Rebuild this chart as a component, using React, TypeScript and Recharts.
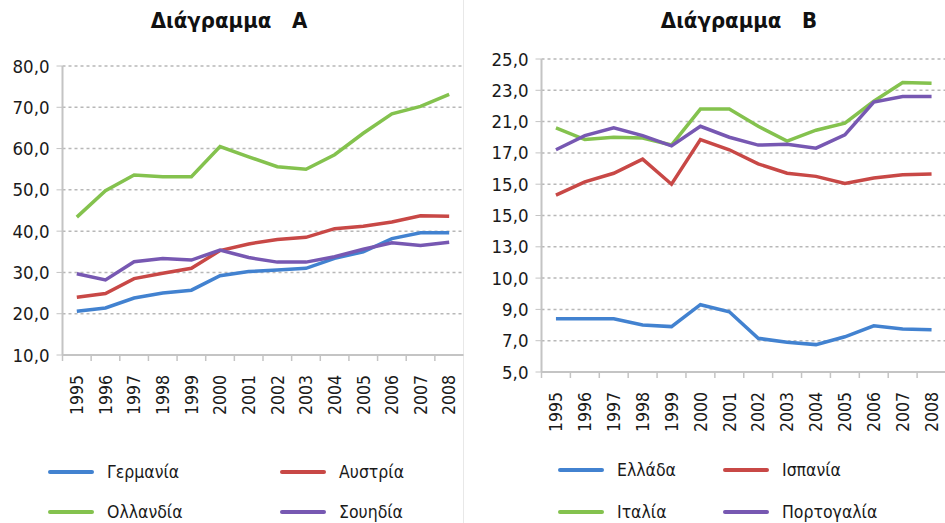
import { LineChart, Line, XAxis, YAxis, CartesianGrid } from "recharts";

// categories
const years = ["1995", "1996", "1997", "1998", "1999", "2000", "2001", "2002", "2003", "2004", "2005", "2006", "2007", "2008"];

// Διάγραμμα A
const germany = [20.6, 21.4, 23.8, 25.0, 25.7, 29.2, 30.2, 30.6, 31.0, 33.4, 35.0, 38.2, 39.6, 39.6];
const austria = [24.0, 24.9, 28.5, 29.8, 31.0, 35.3, 36.9, 38.0, 38.5, 40.6, 41.2, 42.2, 43.7, 43.6];
const netherlands = [43.4, 49.8, 53.6, 53.2, 53.2, 60.5, 58.0, 55.6, 55.0, 58.5, 63.7, 68.4, 70.2, 73.1];
const sweden = [29.7, 28.2, 32.6, 33.4, 33.0, 35.4, 33.6, 32.5, 32.5, 33.8, 35.6, 37.2, 36.5, 37.3];
const ticksA = [10, 20, 30, 40, 50, 60, 70, 80];

// Διάγραμμα B
const greece = [8.4, 8.4, 8.4, 8.0, 7.9, 9.3, 8.85, 7.15, 6.9, 6.75, 7.25, 7.95, 7.75, 7.7];
const spain = [16.3, 17.15, 17.7, 18.6, 17.0, 19.85, 19.2, 18.3, 17.7, 17.5, 17.05, 17.4, 17.6, 17.65];
const italy = [20.6, 19.85, 20.0, 19.95, 19.5, 21.8, 21.8, 20.7, 19.75, 20.45, 20.9, 22.3, 23.5, 23.45];
const portugal = [19.2, 20.1, 20.6, 20.1, 19.45, 20.7, 20.0, 19.5, 19.55, 19.3, 20.15, 22.25, 22.6, 22.6];
const ticksB = [5, 7, 9, 11, 13, 15, 17, 19, 21, 23, 25];
// labels as printed in the original (not all match the grid values)
const tickLabelsB = ["5,0", "7,0", "9,0", "10,0", "13,0", "15,0", "15,0", "17,0", "21,0", "23,0", "25,0"];

const BLUE = "#4282d0";
const RED = "#c84846";
const GREEN = "#84c24e";
const PURPLE = "#7758b2";

const seriesA = [
  { key: "de", name: "Γερμανία", color: BLUE, values: germany },
  { key: "at", name: "Αυστρία", color: RED, values: austria },
  { key: "nl", name: "Ολλανδία", color: GREEN, values: netherlands },
  { key: "se", name: "Σουηδία", color: PURPLE, values: sweden },
];

const seriesB = [
  { key: "gr", name: "Ελλάδα", color: BLUE, values: greece },
  { key: "es", name: "Ισπανία", color: RED, values: spain },
  { key: "it", name: "Ιταλία", color: GREEN, values: italy },
  { key: "pt", name: "Πορτογαλία", color: PURPLE, values: portugal },
];

const FONT = '"DejaVu Sans Condensed", "Liberation Sans Narrow", "Roboto", sans-serif';
const AXIS_COLOR = "#c4c4c4";
const GRID_COLOR = "#b8b8b8";

function buildRows(series: typeof seriesA) {
  return years.map((year, i) => {
    const row: Record<string, string | number> = { year };
    series.forEach((s) => {
      row[s.key] = s.values[i];
    });
    return row;
  });
}

const fmt = (v: number) => v.toFixed(1).replace(".", ",");

function YearTick(props: any) {
  const { x, y, payload, half } = props;
  return (
    <g>
      <line x1={x - half} x2={x - half} y1={y} y2={y + 6} stroke={AXIS_COLOR} strokeWidth={1.5} />
      <text
        x={x}
        y={y + 20}
        transform={`rotate(-90, ${x}, ${y + 20})`}
        textAnchor="end"
        dy="0.36em"
        fontSize={17.5}
        fontFamily={FONT}
        fill="#1a1a1a"
      >
        {payload.value}
      </text>
    </g>
  );
}

interface PanelProps {
  title: string;
  series: typeof seriesA;
  left: number;
  width: number;
  top: number;
  bottom: number;
  yAxisWidth: number;
  plotWidth: number;
  domain: [number, number];
  ticks: number[];
  formatter: (v: number, i: number) => string;
  titleX: number;
  legend: { rows: number[]; cols: number[] };
}

function Panel(p: PanelProps) {
  const data = buildRows(p.series);
  const half = p.plotWidth / years.length / 2;
  const xAxisHeight = 60;
  return (
    <div style={{ position: "absolute", left: p.left, top: 0, width: p.width, height: 523 }}>
      <div
        style={{
          position: "absolute",
          left: p.titleX - 120,
          width: 240,
          top: 8,
          textAlign: "center",
          whiteSpace: "pre",
          fontFamily: FONT,
          fontWeight: "bold",
          fontSize: 22,
          color: "#111",
        }}
      >
        {p.title}
      </div>
      <LineChart
        width={p.width}
        height={523}
        data={data}
        margin={{ top: p.top, right: p.width - p.yAxisWidth - p.plotWidth, bottom: 523 - p.bottom - xAxisHeight, left: 0 }}
      >
        <CartesianGrid vertical={false} stroke={GRID_COLOR} strokeWidth={1.5} strokeDasharray="3 3" />
        <XAxis
          dataKey="year"
          scale="point"
          padding={{ left: half, right: half }}
          interval={0}
          height={xAxisHeight}
          tickSize={0}
          tickMargin={0}
          axisLine={{ stroke: AXIS_COLOR, strokeWidth: 2 }}
          tick={(tp: any) => <YearTick {...tp} half={half} />}
        />
        <YAxis
          type="number"
          domain={p.domain}
          ticks={p.ticks}
          interval={0}
          width={p.yAxisWidth}
          tickSize={6}
          tickMargin={7}
          tickFormatter={p.formatter}
          axisLine={{ stroke: AXIS_COLOR, strokeWidth: 2 }}
          tickLine={{ stroke: AXIS_COLOR }}
          tick={{ fontSize: 18.5, fontFamily: FONT, fill: "#1a1a1a" }}
        />
        {p.series.map((s) => (
          <Line
            key={s.key}
            dataKey={s.key}
            name={s.name}
            stroke={s.color}
            strokeWidth={3.5}
            dot={false}
            type="linear"
            isAnimationActive={false}
          />
        ))}
      </LineChart>
      {p.series.map((s, i) => {
        const top = p.legend.rows[Math.floor(i / 2)];
        const lx = p.legend.cols[i % 2];
        return (
          <div key={s.key} style={{ position: "absolute", left: lx, top: top - 12, height: 24, display: "flex", alignItems: "center" }}>
            <div style={{ width: 46, height: 4, borderRadius: 2, background: s.color }} />
            <span style={{ marginLeft: 13, fontFamily: FONT, fontSize: 17.5, color: "#1a1a1a" }}>{s.name}</span>
          </div>
        );
      })}
    </div>
  );
}

export default function App() {
  return (
    <div style={{ position: "absolute", left: 0, top: 0, width: 945, height: 523, overflow: "hidden", background: "#fff" }}>
      <div style={{ position: "absolute", left: 463, top: 0, width: 1, height: 523, background: "#e8e8e8" }} />
      <Panel
        title={"Διάγραμμα   A"}
        series={seriesA}
        left={0}
        width={470}
        top={66}
        bottom={355}
        yAxisWidth={62.5}
        plotWidth={401}
        domain={[10, 80]}
        ticks={ticksA}
        formatter={(v) => fmt(v)}
        titleX={229}
        legend={{ rows: [472, 512], cols: [48, 280] }}
      />
      <Panel
        title={"Διάγραμμα   B"}
        series={seriesB}
        left={470}
        width={480}
        top={59}
        bottom={372}
        yAxisWidth={71.5}
        plotWidth={404.5}
        domain={[5, 25]}
        ticks={ticksB}
        formatter={(v, i) => tickLabelsB[i] ?? fmt(v)}
        titleX={269}
        legend={{ rows: [470, 512], cols: [88, 253] }}
      />
    </div>
  );
}
